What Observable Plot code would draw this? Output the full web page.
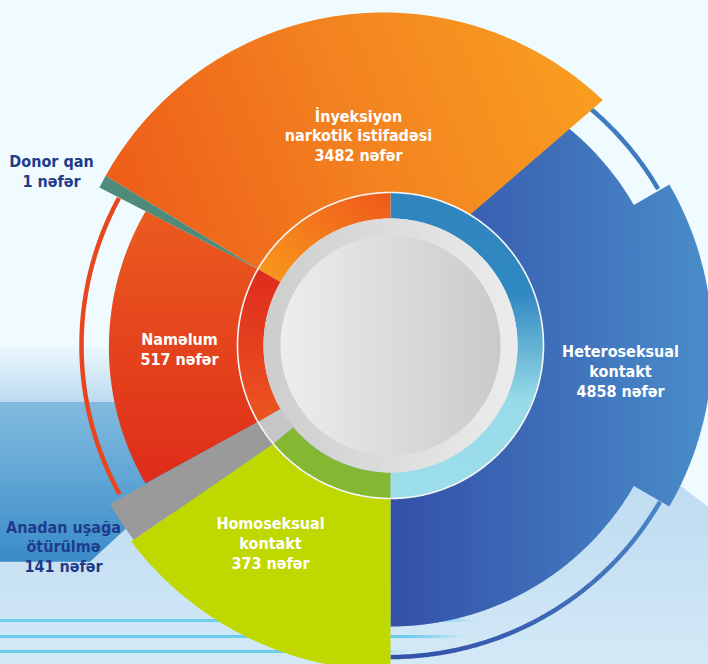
<!DOCTYPE html>
<html>
<head>
<meta charset="utf-8">
<script src="https://cdn.jsdelivr.net/npm/d3@7"></script>
<script src="https://cdn.jsdelivr.net/npm/@observablehq/plot@0.6"></script>
<style>
html, body { margin: 0; padding: 0; background: #effbfe; }
#wrap { position: relative; width: 708px; height: 664px; overflow: hidden; background: #effbfe; }
.bg { position: absolute; left: 0; top: 0; width: 708px; height: 664px; }
#light {
  clip-path: polygon(0 348px, 390px 348px, 681.7px 486.7px, 708px 506.7px, 708px 664px, 0 664px);
  background: linear-gradient(to bottom, #effbfe 0px, #eaf7fc 348px, #bcdaf0 402px, #c2def2 520px, #d3e9f6 664px);
}
#band {
  clip-path: polygon(0 402px, 390px 402px, 390px 470px, 133px 522px, 90px 561.7px, 0 561.7px);
  background: linear-gradient(to bottom, #82bbde 402px, #5fa5d5 480px, #3a8cc8 561px);
}
.ln { position: absolute; left: 0; height: 3px; background: linear-gradient(to right, #6dcbec 0%, #6dcbec 88%, rgba(109,203,236,0) 100%); }
#plot { position: absolute; left: 0; top: 0; }
#plot svg text { font-stretch: condensed; }
</style>
</head>
<body>
<div id="wrap">
  <div class="bg" id="light"></div>
  <div class="bg" id="band"></div>
  <div class="ln" style="top:619px;width:478px"></div>
  <div class="ln" style="top:635px;width:465px"></div>
  <div class="ln" style="top:650px;width:405px"></div>
  <div id="plot"></div>
</div>
<script>
// ---------------- data ----------------
const categories = ["Heteroseksual kontakt", "İnyeksiyon narkotik istifadəsi", "Naməlum", "Homoseksual kontakt", "Anadan uşağa ötürülmə", "Donor qan"];
const counts = [4858, 3482, 517, 373, 141, 1];
const labelLines = [["Heteroseksual", "kontakt"], ["İnyeksiyon", "narkotik istifadəsi"], ["Naməlum"], ["Homoseksual", "kontakt"], ["Anadan uşağa", "ötürülmə"], ["Donor qan"]];
const unit = "nəfər";
// angular span of each category on the inner ring (degrees clockwise from 12 o'clock), as drawn
const ringFrom = [0, 300, 240, 180, 230, 300];
const ringTo = [180, 360, 300, 230, 240, 300];

// ---------------- layout (geometry & style, separate from data) ----------------
const O = [0, 0];
const RING_OUT = 153, RING_IN = 127, DISK_OUT = 127, DISK_IN = 110, EDGE = 152;
const layout = [
  { fill: "url(#gBlue)", outer: [[O, 281, 180, 120], [O, 322, 120, 60], [O, 281, 60, 25]], inner: [20, 180], ring: "url(#gRingBlue)", label: [230, 25], color: "white" },
  { fill: "url(#gOrange)", outer: [[[-7, -15], 318, 299.1, 403.6]], inner: [391.2, 300], ring: "url(#gRingOrange)", label: [-32, -210.5], color: "white" },
  { fill: "url(#gRed)", outer: [[[-10.6, 2], 271, 239.9, 300.2]], inner: [300, 240], ring: "url(#gRingRed)", label: [-211, 3.5], color: "white" },
  { fill: "#bfd800", outer: [[O, 325, 180, 232.9]], inner: [230, 180], ring: "#84b833", label: [-120, 197], color: "white" },
  { fill: "#9a9a9a", outer: [[O, 322, 232.9, 240.5]], inner: [240, 230], ring: "#c6c6c6", label: [-327, 200.5], color: "#1f3b8b" },
  { fill: "#4e8b7b", outer: [[[-7, -15], 318, 296.7, 299.1]], inner: [300, 300], ring: null, label: [-339, -175], color: "#1f3b8b" }
];
const drawOrder = [0, 3, 2, 4, 1, 5];
const thinArcs = [
  { r: 309, a0: 241.2, a1: 298.5, stroke: "#e8461e" },
  { r: 310, a0: 40.2, a1: 59.7, stroke: "#3f7bbf" },
  { r: 311.5, a0: 120.1, a1: 180, stroke: "url(#gArcBlue)" }
];

// ---------------- geometry helpers ----------------
function P(c, r, deg) {
  const a = deg * Math.PI / 180;
  return { x: c[0] + r * Math.sin(a), y: c[1] - r * Math.cos(a) };
}
function arcPts(c, r, a0, a1, step = 0.5) {
  const n = Math.max(2, Math.ceil(Math.abs(a1 - a0) / step) + 1);
  return d3.range(n).map(i => P(c, r, a0 + (a1 - a0) * i / (n - 1)));
}
function slicePts(L) {
  const pts = [];
  for (const [c, r, a0, a1] of L.outer) pts.push(...arcPts(c, r, a0, a1));
  pts.push(...arcPts(O, EDGE, L.inner[0], L.inner[1]));
  return pts;
}
function annulus(r0, r1, a0, a1) {
  return [...arcPts(O, r1, a0, a1), ...arcPts(O, r0, a1, a0)];
}

const marks = [];
// decorative thin outer arcs
for (const t of thinArcs) {
  marks.push(Plot.line(arcPts(O, t.r, t.a0, t.a1), { x: "x", y: "y", stroke: t.stroke, strokeWidth: 4.5, strokeLinecap: "butt" }));
}
// outer slices
for (const i of drawOrder) {
  marks.push(Plot.line(slicePts(layout[i]), { x: "x", y: "y", fill: layout[i].fill, stroke: "none", curve: "linear-closed" }));
}
// inner ring
categories.forEach((cat, i) => {
  if (ringTo[i] > ringFrom[i] && layout[i].ring) {
    marks.push(Plot.line(annulus(RING_IN, RING_OUT, ringFrom[i], ringTo[i]), { x: "x", y: "y", fill: layout[i].ring, stroke: "none", curve: "linear-closed" }));
  }
});
marks.push(Plot.line(arcPts(O, RING_OUT, 0, 360), { x: "x", y: "y", stroke: "#f6f6f6", strokeWidth: 1.6, curve: "linear-closed" }));
// central disk
marks.push(Plot.line(arcPts(O, DISK_OUT, 0, 360), { x: "x", y: "y", fill: "url(#gDiskOuter)", stroke: "none", curve: "linear-closed" }));
marks.push(Plot.line(arcPts(O, DISK_IN, 0, 360), { x: "x", y: "y", fill: "url(#gDiskInner)", stroke: "none", curve: "linear-closed" }));

// labels
const labels = categories.map((cat, i) => ({
  x: layout[i].label[0],
  y: layout[i].label[1],
  text: [...labelLines[i], `${counts[i]} ${unit}`].join("\n"),
  color: layout[i].color
}));
marks.push(Plot.text(labels, {
  x: "x", y: "y", text: "text", fill: "color",
  fontSize: 16, fontWeight: "bold", lineHeight: 1.24,
  fontFamily: "'DejaVu Sans Condensed', 'DejaVu Sans', sans-serif",
  textAnchor: "middle", lineAnchor: "middle"
}));

const svg = Plot.plot({
  width: 708, height: 664,
  margin: 0,
  x: { domain: [-390, 318], range: [0, 708], axis: null },
  y: { domain: [-345, 319], range: [0, 664], axis: null },
  color: { type: "identity" },
  style: { background: "transparent", overflow: "visible" },
  marks
});

d3.select(svg).insert("defs", ":first-child").html(`
<linearGradient id="gOrange" x1="0" y1="0.55" x2="1" y2="0.35"><stop offset="0" stop-color="#ee5e19"/><stop offset="0.5" stop-color="#f38220"/><stop offset="1" stop-color="#f99e20"/></linearGradient>
<linearGradient id="gRed" x1="0" y1="0" x2="0" y2="1"><stop offset="0" stop-color="#eb5b1f"/><stop offset="1" stop-color="#de2c1a"/></linearGradient>
<linearGradient id="gBlue" x1="0" y1="0" x2="1" y2="0"><stop offset="0" stop-color="#3350a8"/><stop offset="1" stop-color="#4a8dca"/></linearGradient>
<linearGradient id="gRingBlue" x1="0" y1="0" x2="0" y2="1"><stop offset="0" stop-color="#2e85bf"/><stop offset="0.33" stop-color="#3189c1"/><stop offset="0.68" stop-color="#98dbe8"/><stop offset="1" stop-color="#9cdeea"/></linearGradient>
<linearGradient id="gRingRed" x1="0" y1="0" x2="0" y2="1"><stop offset="0" stop-color="#df2b1d"/><stop offset="1" stop-color="#eb5520"/></linearGradient>
<linearGradient id="gRingOrange" x1="0" y1="1" x2="1" y2="0"><stop offset="0" stop-color="#f89b1d"/><stop offset="1" stop-color="#ef581a"/></linearGradient>
<linearGradient id="gDiskOuter" x1="0" y1="0" x2="1" y2="0"><stop offset="0" stop-color="#cdcdcd"/><stop offset="1" stop-color="#ececec"/></linearGradient>
<linearGradient id="gDiskInner" x1="0" y1="0" x2="1" y2="0"><stop offset="0" stop-color="#ededed"/><stop offset="1" stop-color="#cacaca"/></linearGradient>
<linearGradient id="gArcBlue" x1="1" y1="0" x2="0" y2="1"><stop offset="0" stop-color="#4a87c6"/><stop offset="1" stop-color="#3350a8"/></linearGradient>
`);

document.getElementById("plot").appendChild(svg);
</script>
</body>
</html>
